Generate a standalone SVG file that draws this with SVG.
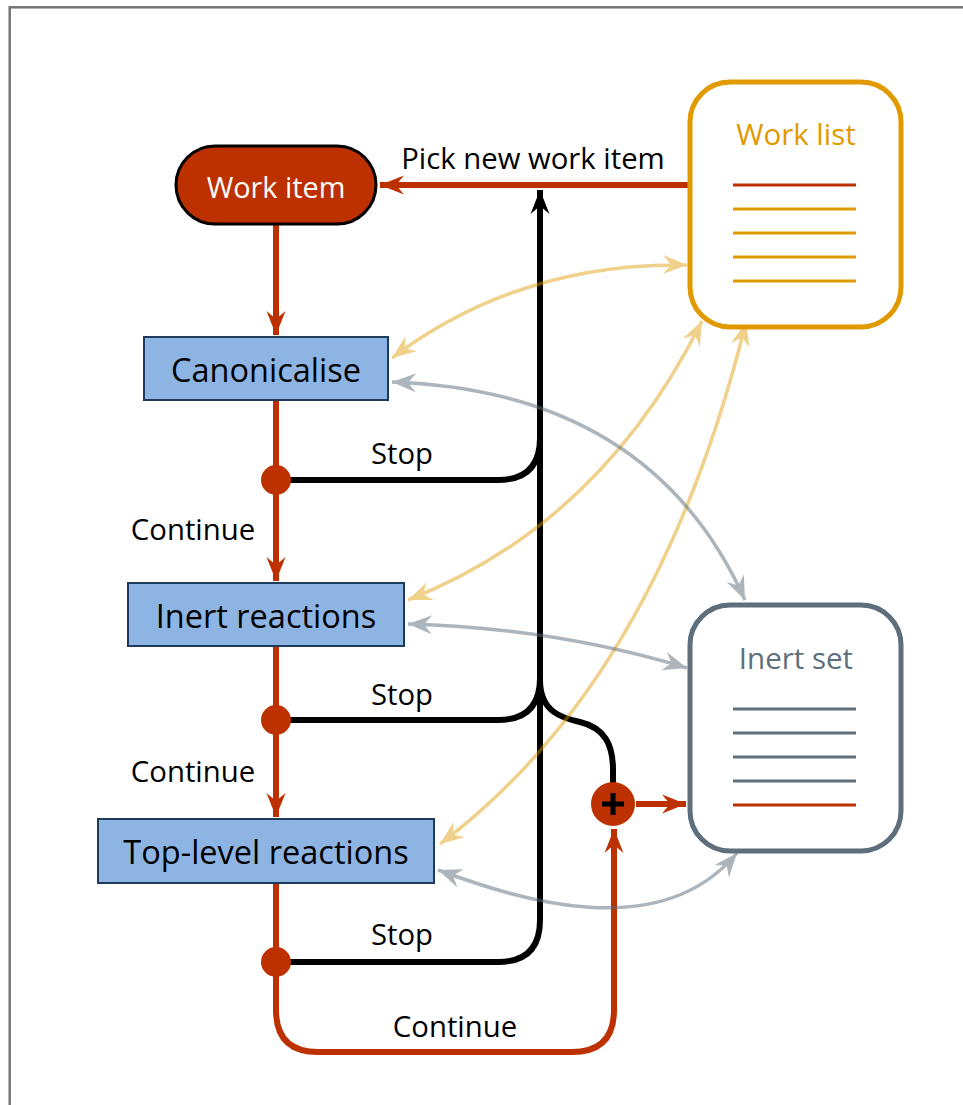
<svg xmlns="http://www.w3.org/2000/svg" width="963" height="1105" viewBox="0 0 963 1105">
<style>
text{font-family:"Open Sans","Noto Sans","Liberation Sans",sans-serif}
.lbl{font-size:29.3px;fill:#000;text-anchor:middle;dominant-baseline:central}
.box{fill:#8DB4E2;stroke:#1F3B5C;stroke-width:2}
.boxt{font-size:32.5px;fill:#000;text-anchor:middle;dominant-baseline:central}
.red{fill:none;stroke:#BD3100;stroke-width:6}
.blk{fill:none;stroke:#000;stroke-width:6}
.fy{fill:none;stroke:#E09A00;stroke-width:3.5}
.fg{fill:none;stroke:#5E6E7B;stroke-width:3.5}
.wl{stroke:#E09A00;stroke-width:3}
.is{stroke:#5E6E7B;stroke-width:3}
.rl{stroke:#BD3100;stroke-width:3}
</style>
<defs>
<marker id="aR" markerUnits="userSpaceOnUse" markerWidth="30" markerHeight="24" viewBox="-26 -12 30 24" refX="0" refY="0" orient="auto-start-reverse"><path d="M0,0 L-24,-9.5 L-16,0 L-24,9.5 Z" fill="#BD3100"/></marker>
<marker id="aK" markerUnits="userSpaceOnUse" markerWidth="30" markerHeight="24" viewBox="-26 -12 30 24" refX="0" refY="0" orient="auto-start-reverse"><path d="M0,0 L-24,-9.5 L-16,0 L-24,9.5 Z" fill="#000"/></marker>
<marker id="aY" markerUnits="userSpaceOnUse" markerWidth="30" markerHeight="24" viewBox="-26 -12 30 24" refX="0" refY="0" orient="auto-start-reverse"><path d="M0,0 L-24,-9.5 L-16,0 L-24,9.5 Z" fill="#E09A00"/></marker>
<marker id="aG" markerUnits="userSpaceOnUse" markerWidth="30" markerHeight="24" viewBox="-26 -12 30 24" refX="0" refY="0" orient="auto-start-reverse"><path d="M0,0 L-24,-9.5 L-16,0 L-24,9.5 Z" fill="#5E6E7B"/></marker>
</defs>
<rect x="9.7" y="7.3" width="1000" height="1200" fill="#fff" stroke="#777" stroke-width="2.5"/>

<g id="connectors">
  <path class="red" d="M688,185 H380" marker-end="url(#aR)"/>
  <path class="red" d="M276,224 V335" marker-end="url(#aR)"/>
  <path class="red" d="M276,400 V581" marker-end="url(#aR)"/>
  <path class="red" d="M276,646 V817" marker-end="url(#aR)"/>
  <path class="red" d="M276,883 V1010 Q276,1052 318,1052 H572 Q614,1052 614,1010 V829" marker-end="url(#aR)"/>
  <path class="red" d="M636,804 H686" marker-end="url(#aR)"/>
  <path class="blk" d="M276,962 H498 Q540,962 540,920 V190" marker-end="url(#aK)"/>
  <path class="blk" d="M276,480 H498 Q540,480 540,438"/>
  <path class="blk" d="M276,720 H498 Q540,720 540,678"/>
  <path class="blk" d="M540,680 C540,712 562,718 580,722 C605,728 613,745 613,770 V784"/>
  <g opacity="0.45">
    <path class="fy" d="M392,358 Q520,262 687,265" marker-start="url(#aY)" marker-end="url(#aY)"/>
    <path class="fy" d="M408,600 Q601,524 702,321" marker-start="url(#aY)" marker-end="url(#aY)"/>
    <path class="fy" d="M440,844 Q657,681 746,322" marker-start="url(#aY)" marker-end="url(#aY)"/>
  </g>
  <g opacity="0.5">
    <path class="fg" d="M392,382 Q651,391 745,600" marker-start="url(#aG)" marker-end="url(#aG)"/>
    <path class="fg" d="M408,624 Q555,628 687,668" marker-start="url(#aG)" marker-end="url(#aG)"/>
    <path class="fg" d="M438,870 C520,900 660,945 737,853" marker-start="url(#aG)" marker-end="url(#aG)"/>
  </g>
  <circle cx="276" cy="480" r="15" fill="#BD3100"/>
  <circle cx="276" cy="720" r="15" fill="#BD3100"/>
  <circle cx="276" cy="962" r="15" fill="#BD3100"/>
  <text class="lbl" x="533" y="158">Pick new work item</text>
  <text class="lbl" x="402" y="453">Stop</text>
  <text class="lbl" x="402" y="694">Stop</text>
  <text class="lbl" x="402" y="934">Stop</text>
  <text class="lbl" x="193" y="529">Continue</text>
  <text class="lbl" x="193" y="771">Continue</text>
  <text class="lbl" x="455" y="1026">Continue</text>
</g>

<g id="work-item">
  <rect x="176" y="146" width="200" height="78" rx="39" fill="#BD3100" stroke="#000" stroke-width="3"/>
  <text x="276" y="186" font-size="28.8" fill="#fff" text-anchor="middle" dominant-baseline="central">Work item</text>
</g>

<g id="canonicalise">
  <rect class="box" x="144" y="337" width="244" height="63"/>
  <text class="boxt" x="266" y="369">Canonicalise</text>
</g>

<g id="inert-reactions">
  <rect class="box" x="128" y="583" width="276" height="63"/>
  <text class="boxt" x="266" y="615">Inert reactions</text>
</g>

<g id="top-level-reactions">
  <rect class="box" x="98" y="819" width="336" height="64"/>
  <text class="boxt" x="266" y="851">Top-level reactions</text>
</g>

<g id="plus">
  <circle cx="613" cy="804" r="22" fill="#BD3100"/>
  <path d="M602,804 H624 M613,793 V815" stroke="#000" stroke-width="5"/>
</g>

<g id="work-list">
  <rect x="690" y="82" width="211" height="245" rx="40" fill="#fff" stroke="#E09A00" stroke-width="5"/>
  <text x="796" y="133" font-size="29.5" fill="#E09A00" text-anchor="middle" dominant-baseline="central">Work list</text>
  <line class="rl" x1="733" y1="185" x2="856" y2="185"/>
  <line class="wl" x1="733" y1="209" x2="856" y2="209"/>
  <line class="wl" x1="733" y1="233" x2="856" y2="233"/>
  <line class="wl" x1="733" y1="257" x2="856" y2="257"/>
  <line class="wl" x1="733" y1="281" x2="856" y2="281"/>
</g>

<g id="inert-set">
  <rect x="690" y="605" width="211" height="246" rx="40" fill="#fff" stroke="#5E6E7B" stroke-width="5"/>
  <text x="796" y="657" font-size="29.5" fill="#5E6E7B" text-anchor="middle" dominant-baseline="central">Inert set</text>
  <line class="is" x1="733" y1="709" x2="856" y2="709"/>
  <line class="is" x1="733" y1="733" x2="856" y2="733"/>
  <line class="is" x1="733" y1="757" x2="856" y2="757"/>
  <line class="is" x1="733" y1="781" x2="856" y2="781"/>
  <line class="rl" x1="733" y1="805" x2="856" y2="805"/>
</g>
</svg>
